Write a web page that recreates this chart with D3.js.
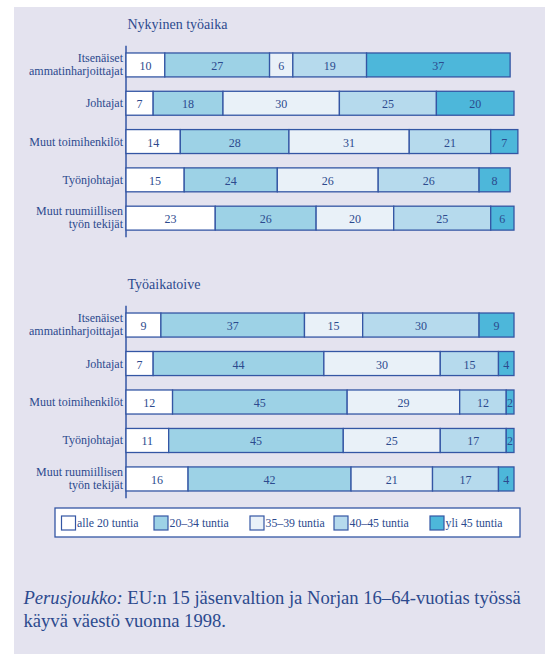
<!DOCTYPE html>
<html lang="fi">
<head>
<meta charset="utf-8">
<title>Nykyinen työaika ja työaikatoive</title>
<script src="https://d3js.org/d3.v7.min.js"></script>
<style>
  body { margin: 0; background: #fff; }
  svg text { fill: #2c4a8e; }
</style>
</head>
<body>
<svg id="chart" width="545" height="654"></svg>
<script>
// categories (rows), same for both panels
const categories = [
    ["Itsenäiset", "ammatinharjoittajat"],
    ["Johtajat"],
    ["Muut toimihenkilöt"],
    ["Työnjohtajat"],
    ["Muut ruumiillisen", "työn tekijät"]
];
const hourGroups = ["alle 20 tuntia", "20–34 tuntia", "35–39 tuntia", "40–45 tuntia", "yli 45 tuntia"];

// percent shares, one array per row, in hourGroups order
const currentHours = [
    [10, 27, 6, 19, 37],
    [7, 18, 30, 25, 20],
    [14, 28, 31, 21, 7],
    [15, 24, 26, 26, 8],
    [23, 26, 20, 25, 6]
];
const wishedHours = [
    [9, 37, 15, 30, 9],
    [7, 44, 30, 15, 4],
    [12, 45, 29, 12, 2],
    [11, 45, 25, 17, 2],
    [16, 42, 21, 17, 4]
];
const panelTitles = ["Nykyinen työaika", "Työaikatoive"];

const colors = ["#ffffff", "#9dd2e6", "#e9f1f8", "#b6daed", "#4db7da"];
const edge = "#3456a4";
const font = "Liberation Serif";

let svg = d3.select("#chart")
    .attr("font-family", font);

// panel background
svg.append("rect")
    .attr("x", 14).attr("y", 7)
    .attr("width", 545 - 14).attr("height", 654 - 7)
    .attr("fill", "#e4e3ef");

let xScale = d3.scaleLinear()
    .domain([0, 100])
    .range([126, 514]);

function drawPanel(data, title, y0, y1) {
    let g = svg.append("g");
    let yScale = d3.scaleBand()
        .domain(d3.range(categories.length))
        .range([y0, y1])
        .paddingInner(0.375)
        .paddingOuter(0.1875);

    g.append("text")
        .attr("x", 127.5)
        .attr("y", y0 - 17)
        .attr("font-size", 14)
        .text(title);

    // axis line
    g.append("line")
        .attr("x1", xScale(0)).attr("x2", xScale(0))
        .attr("y1", y0).attr("y2", y1)
        .attr("stroke", edge)
        .attr("stroke-width", 1.5);

    // category labels
    g.selectAll(".cat")
        .data(categories)
        .join("text")
        .attr("class", "cat")
        .attr("text-anchor", "end")
        .attr("font-size", 12)
        .each(function(lines, i) {
            let c = yScale(i) + yScale.bandwidth() / 2;
            let start = lines.length == 1 ? c + 4 : c - 3;
            d3.select(this).selectAll("tspan")
                .data(lines)
                .join("tspan")
                .attr("x", xScale(0) - 3)
                .attr("y", (d, j) => start + j * 13)
                .text(d => d);
        });

    // segments
    data.forEach((row, i) => {
        let ends = d3.cumsum(row);
        let segs = row.map((v, k) => ({v: v, k: k, from: ends[k] - v, to: ends[k]}));
        let rowG = g.append("g");
        rowG.selectAll("rect")
            .data(segs)
            .join("rect")
            .attr("x", d => xScale(d.from))
            .attr("y", yScale(i))
            .attr("width", d => xScale(d.to) - xScale(d.from))
            .attr("height", yScale.bandwidth())
            .attr("fill", d => colors[d.k])
            .attr("stroke", edge)
            .attr("stroke-width", 1.3);
        rowG.selectAll("text")
            .data(segs)
            .join("text")
            .attr("x", d => (xScale(d.from) + xScale(d.to)) / 2)
            .attr("y", yScale(i) + yScale.bandwidth() / 2 + 5)
            .attr("text-anchor", "middle")
            .attr("font-size", 12)
            .text(d => d.v);
    });
}

drawPanel(currentHours, panelTitles[0], 45.8, 237.3);
drawPanel(wishedHours, panelTitles[1], 305.8, 498.2);

// legend
let legendX = [61.5, 154, 250, 334, 430];
let legend = svg.append("g");
legend.append("rect")
    .attr("x", 55).attr("y", 508)
    .attr("width", 465).attr("height", 29)
    .attr("fill", "#fff")
    .attr("stroke", edge)
    .attr("stroke-width", 1.3);
let items = legend.selectAll(".item")
    .data(hourGroups)
    .join("g")
    .attr("class", "item")
    .attr("transform", (d, i) => "translate(" + legendX[i] + ",516)");
items.append("rect")
    .attr("width", 14).attr("height", 14)
    .attr("fill", (d, i) => colors[i])
    .attr("stroke", edge)
    .attr("stroke-width", 1.2);
items.append("text")
    .attr("x", 15.5)
    .attr("y", 11)
    .attr("font-size", 11.8)
    .text(d => d);

// population note
let note = svg.append("text")
    .attr("x", 23.5)
    .attr("y", 603.5)
    .attr("font-size", 18.6);
note.append("tspan").attr("font-style", "italic").text("Perusjoukko:");
note.append("tspan").text(" EU:n 15 jäsenvaltion ja Norjan 16–64-vuotias työssä");
svg.append("text")
    .attr("x", 23.5)
    .attr("y", 627)
    .attr("font-size", 18.6)
    .text("käyvä väestö vuonna 1998.");
</script>
</body>
</html>
